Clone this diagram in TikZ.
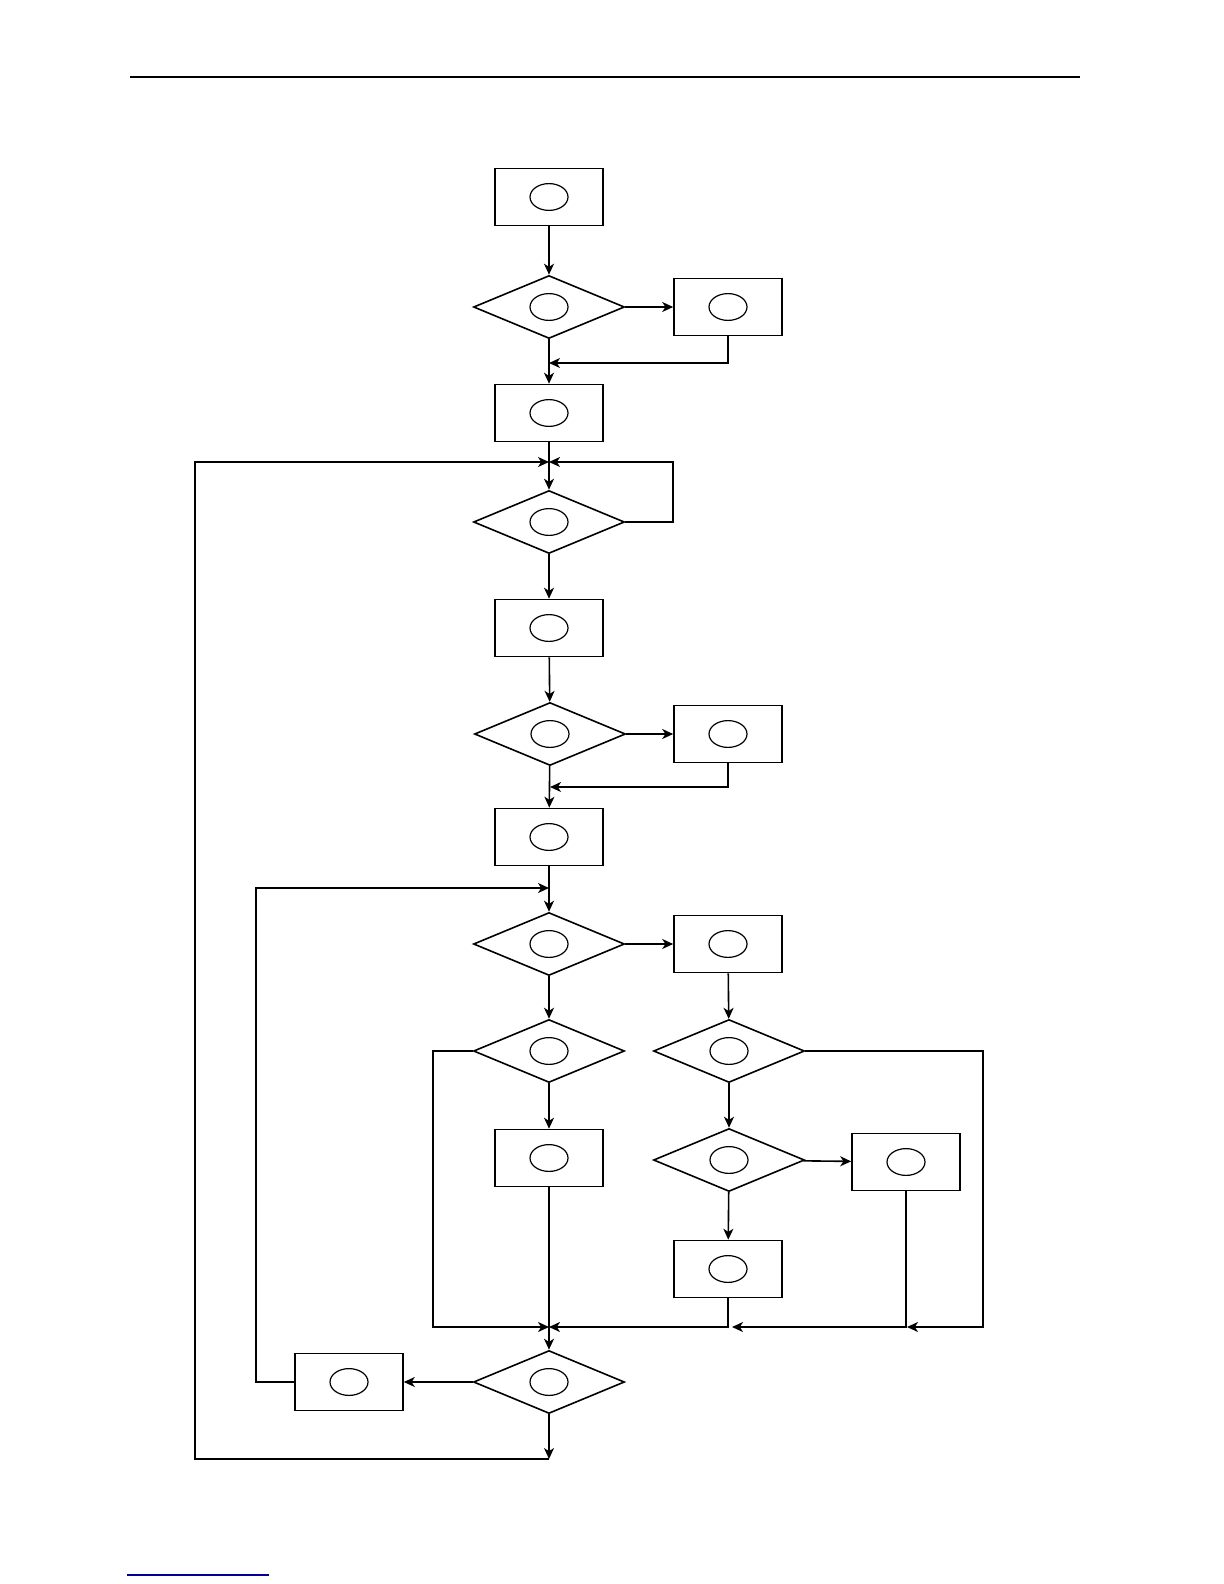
\documentclass[tikz,border=0pt]{standalone}
\usepackage{tikz}
\usetikzlibrary{shapes,arrows,arrows.meta}

\tikzset{
  oval/.style={path picture={\draw[line width=0.6pt] (path picture bounding box.center) ellipse (9.5pt and 6.7pt);}},
  stepbox/.style={draw, rectangle, line width=0.8pt, minimum width=54pt, minimum height=28.5pt, inner sep=0pt, oval},
  testbox/.style={draw, diamond, line width=0.8pt, minimum width=75.5pt, minimum height=31.5pt, inner sep=0pt, oval},
  line/.style={line width=0.8pt}
}

\begin{document}
\begin{tikzpicture}[x=0.5pt, y=-0.5pt, >={Stealth[length=5.5pt, width=5pt, inset=1.6pt]}]
\useasboundingbox (0,0) rectangle (1224,1584);
% page rules
\draw [line width=1.4pt] (130,77) -- (1080,77);
\draw [line width=0.8pt, blue!60!black] (127,1575) -- (269,1575);
% main column
\node[stepbox] (box1) at (549,197) {};
\node[testbox] (dec1) at (549,307) {};
\node[stepbox] (box2) at (728,307) {};
\node[stepbox] (box3) at (549,413) {};
\node[testbox] (dec2) at (549,522) {};
\node[stepbox] (box4) at (549,628) {};
\node[testbox] (dec3) at (550,734) {};
\node[stepbox] (box5) at (728,734) {};
\node[stepbox] (box6) at (549,837) {};
\node[testbox] (dec4) at (549,944) {};
\node[stepbox] (box7) at (728,944) {};
\node[testbox] (dec5) at (549,1051) {};
\node[testbox] (dec6) at (729,1051) {};
\node[stepbox] (box8) at (549,1158) {};
\node[testbox] (dec8) at (729,1160) {};
\node[stepbox] (box9) at (906,1162) {};
\node[stepbox] (box10) at (728,1269) {};
\node[testbox] (dec7) at (549,1382) {};
\node[stepbox] (box11) at (349,1382) {};
% junction points
\coordinate (j1) at (549,363);
\coordinate (j2) at (549,462);
\coordinate (r2) at (673,462);
\coordinate (j3) at (550,787);
\coordinate (j4) at (549,888);
\coordinate (j5) at (549,1327);
\coordinate (j6) at (732,1327);
\coordinate (j7) at (907,1327);
\coordinate (right1) at (983,1327);
\coordinate (left1) at (195,462);
\coordinate (left2) at (256,888);
\coordinate (left3) at (433,1327);
\coordinate (out) at (549,1459);
% connectors
\draw [line, ->] (box1) -- (dec1);
\draw [line, ->] (dec1) -- (box2);
\draw [line, ->] (box2.south) |- (j1);
\draw [line, ->] (dec1) -- (box3);
\draw [line, ->] (box3) -- (dec2);
\draw [line, ->] (dec2.east) -| (r2) -- (j2);
\draw [line, ->] (dec2) -- (box4);
\draw [line, ->] (box4) -- (dec3);
\draw [line, ->] (dec3) -- (box5);
\draw [line, ->] (box5.south) |- (j3);
\draw [line, ->] (dec3) -- (box6);
\draw [line, ->] (box6) -- (dec4);
\draw [line, ->] (dec4) -- (box7);
\draw [line, ->] (dec4) -- (dec5);
\draw [line, ->] (box7) -- (dec6);
\draw [line, ->] (dec5) -- (box8);
\draw [line, ->] (dec6) -- (dec8);
\draw [line, ->] (dec8) -- (box9);
\draw [line, ->] (dec8) -- (box10);
% merging lines
\draw [line, ->] (dec5.west) -| (left3) -- (j5);
\draw [line, ->] (box10.south) |- (j5);
\draw [line, ->] (box9.south) |- (j6);
\draw [line, ->] (dec6.east) -| (right1) -- (j7);
\draw [line, ->] (box8) -- (dec7);
\draw [line, ->] (dec7) -- (box11);
\draw [line, ->] (box11.west) -| (left2) -- (j4);
\draw [line, ->] (dec7) -- (out);
\draw [line, ->] (out) -| (left1) -- (j2);
\end{tikzpicture}
\end{document}
